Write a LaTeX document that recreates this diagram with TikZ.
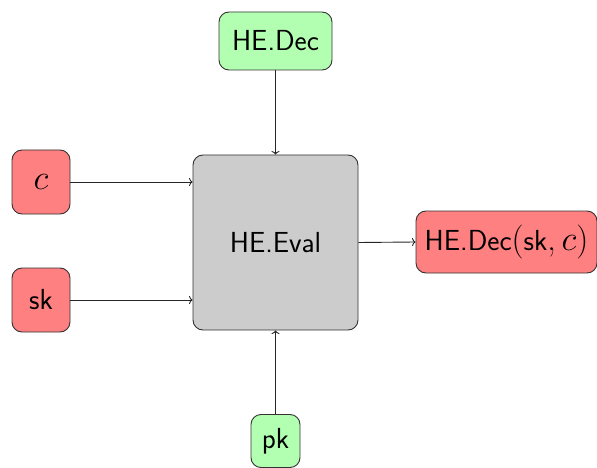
\documentclass[tikz,border=0pt]{standalone}
\usepackage{graphicx}
\usetikzlibrary{arrows.meta}
\newcommand{\largemath}[1]{{\fontsize{34}{40}\selectfont\rmfamily #1}}
\newcommand{\bigc}{\raisebox{0pt}{\scalebox{1.4}{$c$}}}
\begin{document}
\begin{tikzpicture}[x=1pt,y=-1pt,
  box/.style={draw=black!80, rounded corners=10pt, line width=0.9pt,
    font=\fontsize{29}{35}\selectfont\sffamily, inner sep=0pt, anchor=center},
  redbox/.style={box, fill=red!50},
  greenbox/.style={box, fill=green!30},
  graybox/.style={box, fill=black!20},
  arr/.style={-{To[length=3.5pt,width=8pt]}, line width=0.9pt, black!85}]
\useasboundingbox (0,0) rectangle (597,468);
\node[greenbox, minimum width=113pt, minimum height=58pt] (dec) at (275.5,41) {HE.Dec};
\node[redbox, minimum width=58pt, minimum height=64pt] (c) at (41,182) {\bigc};
\node[redbox, minimum width=58pt, minimum height=64pt] (sk) at (41,300) {sk};
\node[graybox, minimum width=165pt, minimum height=175pt] (eval) at (275.5,242.5) {HE.Eval};
\node[redbox, minimum width=181pt, minimum height=62pt] (out) at (506.5,242) {HE.Dec\largemath{(}sk\largemath{,\,}\bigc\largemath{)}};
\node[greenbox, minimum width=49pt, minimum height=53pt] (pk) at (275.5,441) {pk};
\draw[arr] (dec.south) -- (eval.north);
\draw[arr] (c.east) -- (c.east -| eval.west);
\draw[arr] (sk.east) -- (sk.east -| eval.west);
\draw[arr] (pk.north) -- (eval.south);
\draw[arr] (eval.east) -- (out.west);
\end{tikzpicture}
\end{document}
